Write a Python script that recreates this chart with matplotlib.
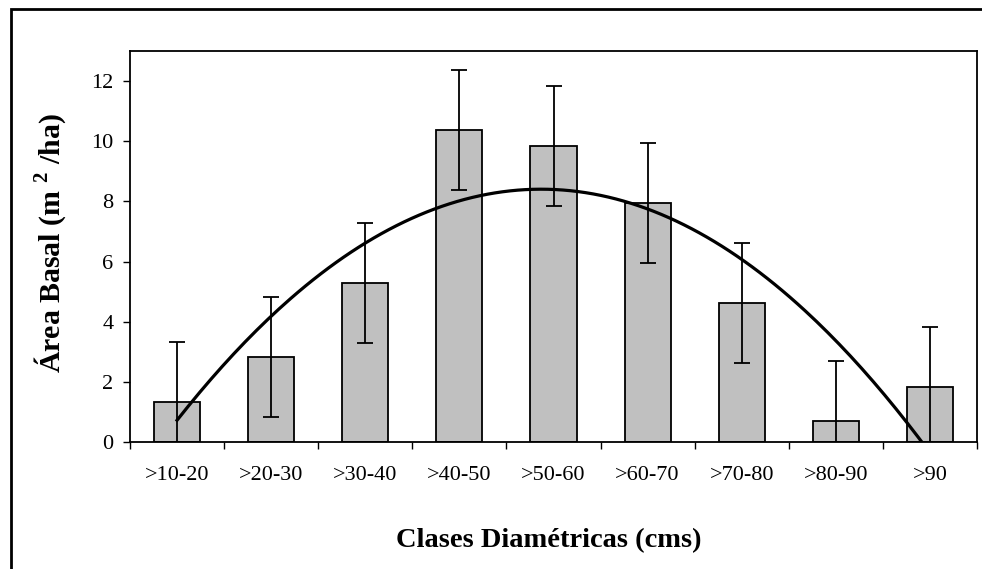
import matplotlib
matplotlib.use("Agg")
import matplotlib.pyplot as plt
import numpy as np
from matplotlib.patches import Rectangle

plt.rcParams['font.family'] = ['Liberation Serif', 'DejaVu Serif']
plt.rcParams['mathtext.fontset'] = 'custom'
plt.rcParams['mathtext.rm'] = 'Liberation Serif'
plt.rcParams['mathtext.bf'] = 'Liberation Serif:bold'

clases = ['>10-20', '>20-30', '>30-40', '>40-50', '>50-60', '>60-70', '>70-80', '>80-90', '>90']
area_basal = [1.33, 2.83, 5.28, 10.38, 9.84, 7.95, 4.62, 0.70, 1.83]
error = [2.0, 2.0, 2.0, 2.0, 2.0, 2.0, 2.0, 2.0, 2.0]
y_ticks = [0, 2, 4, 6, 8, 10, 12]


def main():
    fig = plt.figure(figsize=(9.82, 5.69), dpi=100)
    ax = fig.add_axes([130 / 982, 1 - 442 / 569, 847 / 982, 391 / 569])

    x = np.arange(len(clases))
    ax.bar(x, area_basal, width=0.49, color='#c0c0c0', edgecolor='black', linewidth=1.3, zorder=2)
    ax.errorbar(x, area_basal, yerr=error, fmt='none', ecolor='black', elinewidth=1.3,
                capsize=5.5, capthick=1.3, zorder=3)

    # polynomial (order 2) trend line, like the spreadsheet does it
    coef = np.polyfit(x + 1, area_basal, 2)
    xs = np.linspace(1, len(clases), 200)
    ax.plot(xs - 1, np.polyval(coef, xs), color='black', linewidth=2.3, zorder=4)

    ax.set_xlim(-0.5, len(clases) - 0.5)
    ax.set_ylim(0, 13)
    ax.set_yticks(y_ticks)
    ax.set_xticks(x)
    ax.set_xticklabels(clases)
    ax.set_xticks(np.arange(len(clases) + 1) - 0.5, minor=True)
    ax.tick_params(axis='x', which='major', length=0, pad=17, labelsize=16)
    ax.tick_params(axis='x', which='minor', length=5, width=1.0, direction='out')
    ax.tick_params(axis='y', length=5, width=1.0, direction='out', pad=7, labelsize=16)
    for s in ax.spines.values():
        s.set_linewidth(1.3)

    ax.set_xlabel('Clases Diamétricas (cms)', fontsize=20.5, fontweight='bold')
    ax.xaxis.set_label_coords(0.494, -0.253)
    ax.xaxis.label.set_va('center')
    ax.set_ylabel(r'Área Basal (m $^{\mathbf{2}}\;$/ha)', fontsize=21.5, fontweight='bold')
    ax.yaxis.set_label_coords(-0.094, 0.508)
    ax.yaxis.label.set_va('center')

    # outer chart frame
    fig.patches.append(Rectangle((11 / 982, -0.2), 1.2, 1.2 - 9 / 569, transform=fig.transFigure,
                                 fill=False, edgecolor='black', linewidth=2))

    fig.savefig('out.png', dpi=100)


if __name__ == "__main__":
    main()
